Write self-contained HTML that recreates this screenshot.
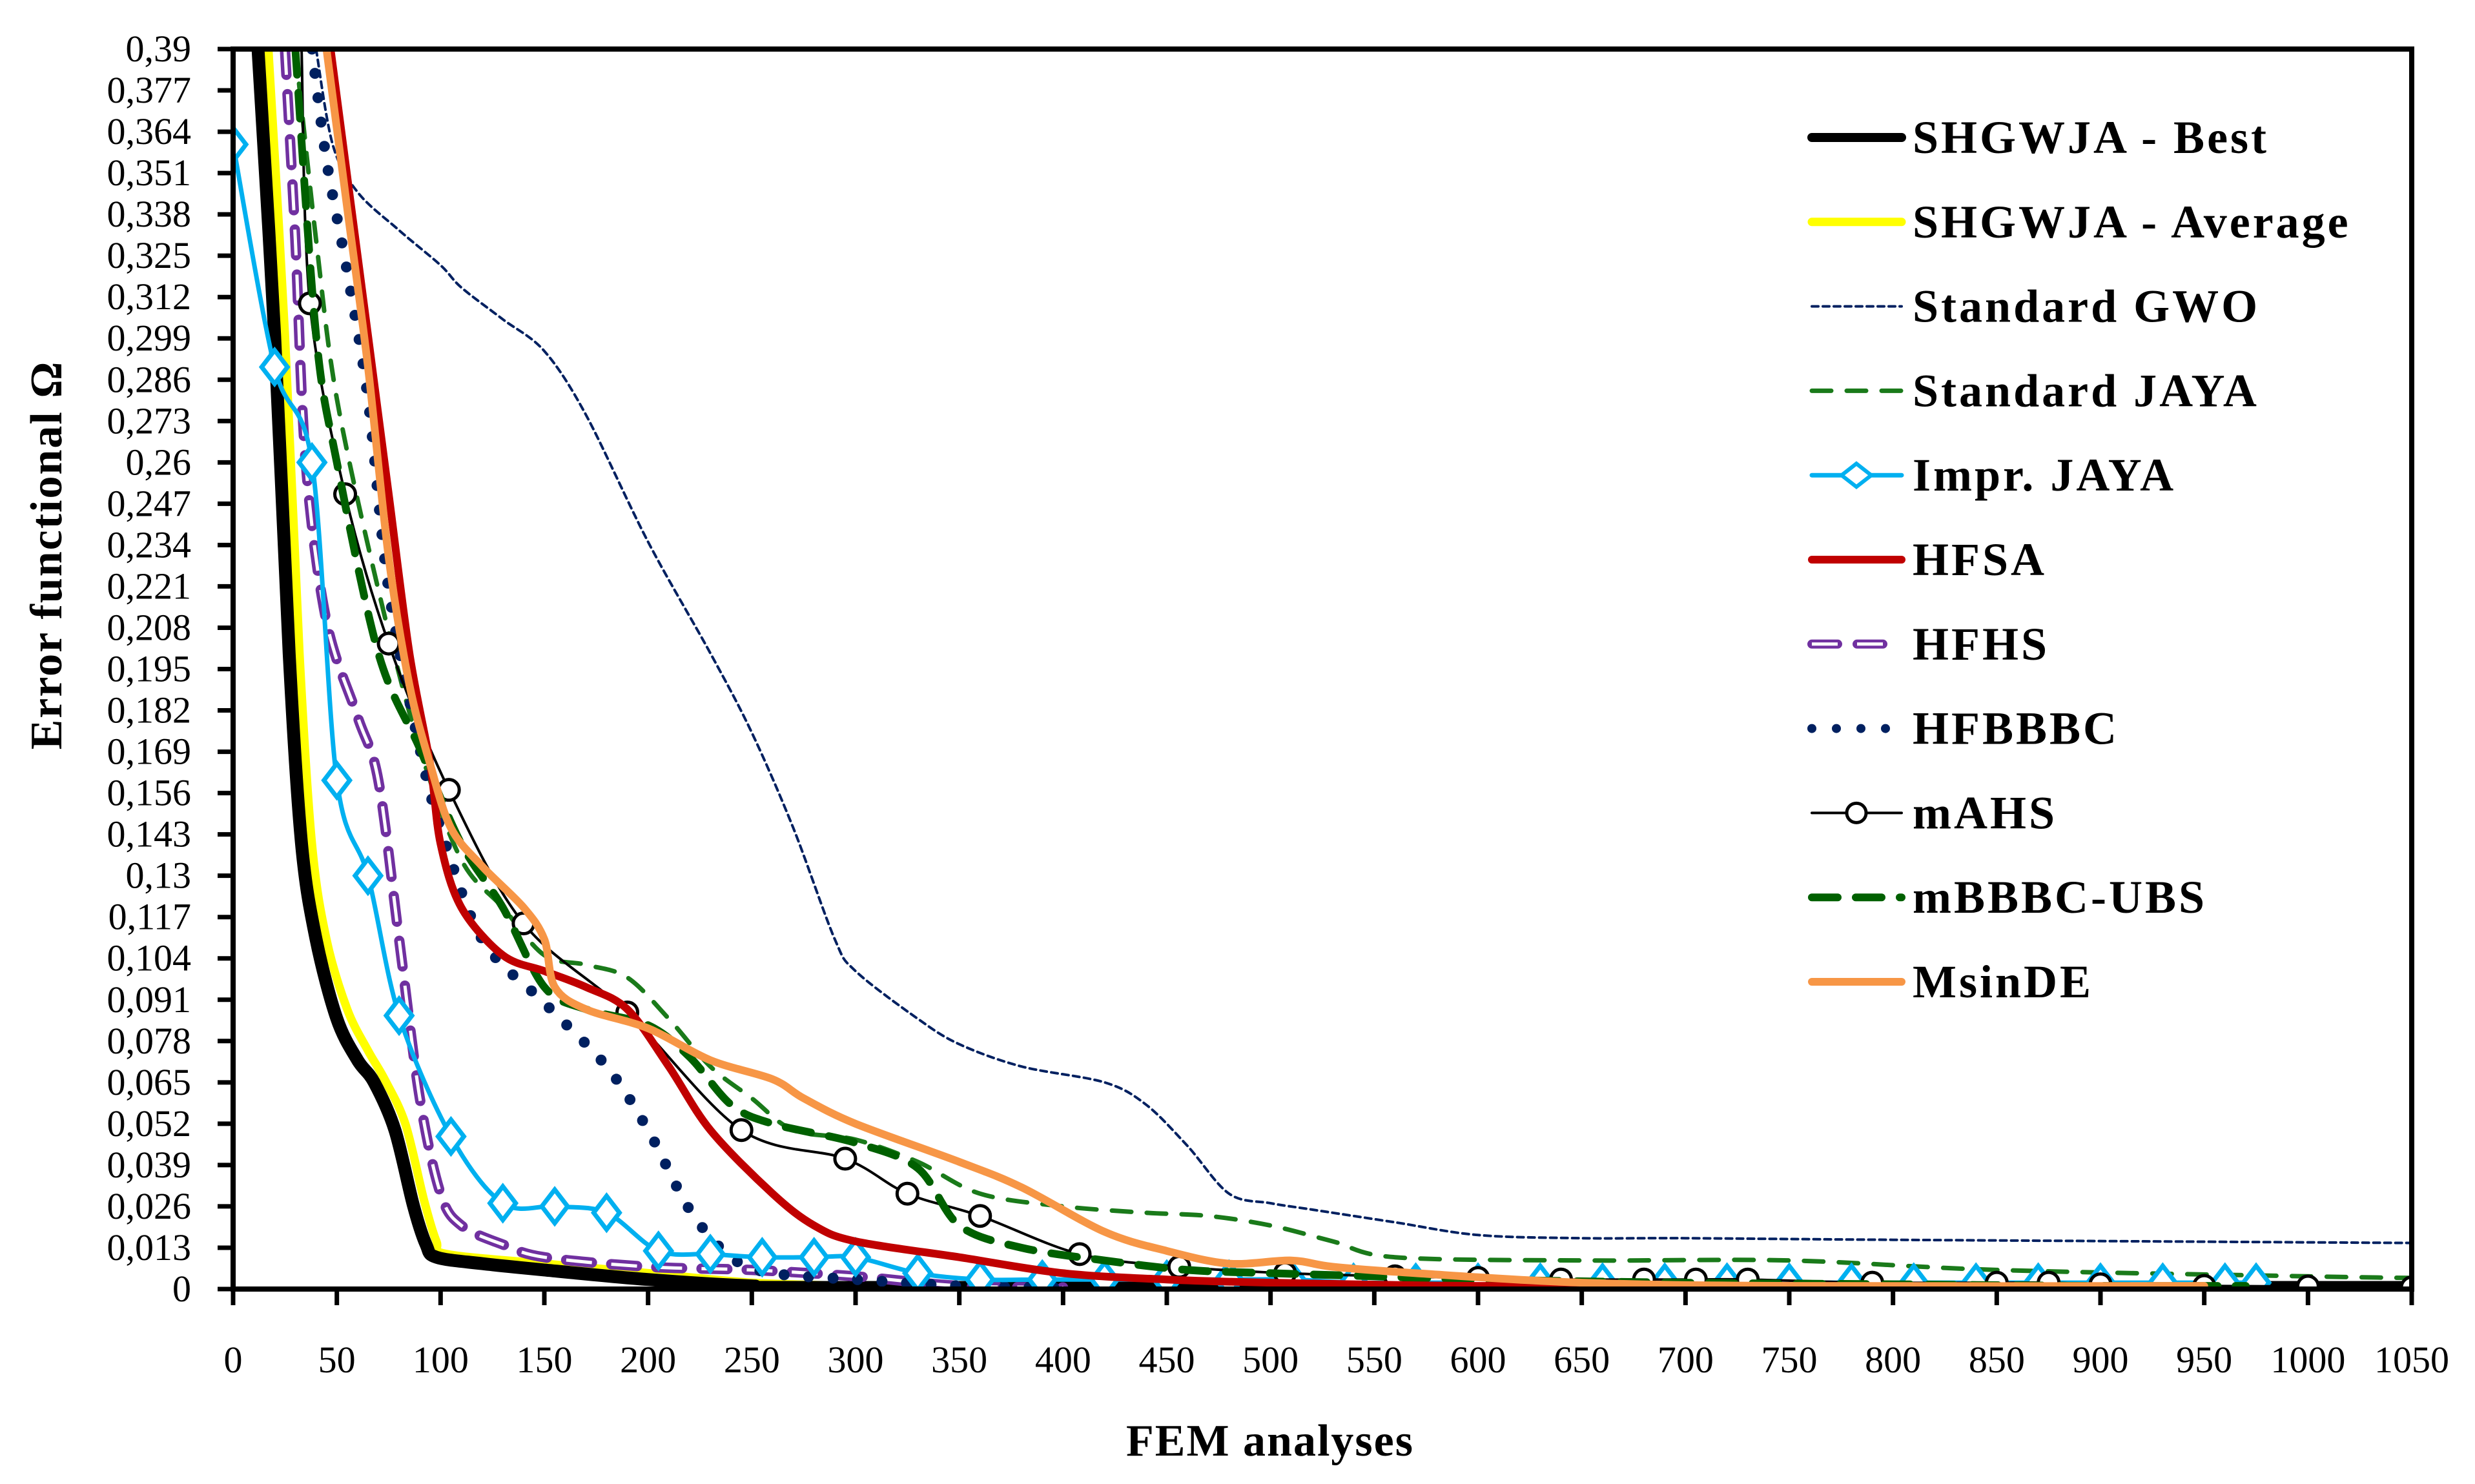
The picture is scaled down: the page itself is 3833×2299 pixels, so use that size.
<!DOCTYPE html>
<html><head><meta charset="utf-8"><style>
html,body{margin:0;padding:0;background:#fff}
svg{display:block}
text{font-family:"Liberation Serif",serif}
</style></head><body>
<svg id="chart" width="3833" height="2299" viewBox="0 0 3833 2299" xmlns="http://www.w3.org/2000/svg">
<defs><clipPath id="plotclip"><rect x="361" y="76" width="3374" height="1921"/></clipPath></defs>
<g id="grid"></g>
<g id="series" clip-path="url(#plotclip)"></g>
<rect x="361" y="76" width="3374" height="1921" fill="none" stroke="#000" stroke-width="8"/>
<g id="legend"></g>
<text x="1967" y="2255" font-size="70" font-weight="bold" text-anchor="middle" letter-spacing="2">FEM analyses</text>
<text transform="translate(95,860) rotate(-90)" font-size="70" font-weight="bold" text-anchor="middle" letter-spacing="2">Error functional  Ω</text>
</svg>
<script>
const xTicks=[0,50,100,150,200,250,300,350,400,450,500,550,600,650,700,750,800,850,900,950,1000,1050];
const yTickCount=31;
const yStep=0.013;
const bestX=[12,20,27,33,40,50,60,68,78,87,93,98,120,150,200,250,300,1050];
const bestY=[0.39,0.3,0.2,0.14,0.11,0.085,0.072,0.065,0.05,0.026,0.014,0.01,0.008,0.006,0.003,0.001,0.0005,0.0005];
const avgX=[17,25,32,38,45,55,65,73,83,92,98,103,150,200,250,300,330];
const avgY=[0.39,0.3,0.2,0.14,0.11,0.088,0.075,0.066,0.052,0.028,0.015,0.011,0.008,0.005,0.002,0.001,0.0005];
const gwoX=[40,48,60,80,100,110,130,150,170,200,230,250,270,290,300,330,350,380,420,440,460,480,500,520,560,600,650,700,800,1050];
const gwoY=[0.39,0.36,0.345,0.333,0.322,0.315,0.305,0.295,0.275,0.235,0.2,0.175,0.145,0.11,0.1,0.085,0.077,0.07,0.065,0.058,0.045,0.03,0.027,0.025,0.021,0.017,0.016,0.016,0.0155,0.0145];
const jayaX=[30,40,50,70,90,110,130,150,170,190,210,230,250,270,300,330,360,400,440,470,500,530,560,650,750,850,1000,1050];
const jayaY=[0.39,0.33,0.28,0.22,0.17,0.135,0.12,0.105,0.102,0.098,0.085,0.07,0.06,0.05,0.047,0.04,0.03,0.026,0.024,0.023,0.02,0.015,0.01,0.009,0.009,0.006,0.004,0.0035];
const imprX=[0,20,38,50,65,80,105,130,155,180,205,230,255,280,300,330,360,390,420,450,480,510,540,570,600,630,660,690,720,750,780,810,840,870,900,930,960,975];
const imprY=[0.36,0.29,0.26,0.16,0.13,0.086,0.048,0.027,0.026,0.024,0.012,0.011,0.01,0.01,0.01,0.005,0.003,0.003,0.003,0.003,0.003,0.003,0.002,0.002,0.002,0.002,0.002,0.002,0.002,0.002,0.002,0.002,0.002,0.002,0.002,0.002,0.002,0.002];
const hfsaX=[47,55,65,75,85,95,100,110,130,150,170,190,210,230,260,280,300,350,400,450,500,600,750];
const hfsaY=[0.39,0.35,0.3,0.25,0.2,0.165,0.14,0.12,0.105,0.1,0.095,0.088,0.07,0.05,0.03,0.02,0.015,0.01,0.005,0.003,0.002,0.001,0.001];
const hfhsX=[25,30,35,45,60,70,80,90,100,110,130,150,200,250,300,350,400];
const hfhsY=[0.39,0.33,0.26,0.21,0.18,0.16,0.11,0.06,0.03,0.02,0.014,0.01,0.007,0.006,0.004,0.001,0.0005];
const hfbX=[38,45,55,65,75,90,100,120,150,180,200,220,240,260,300,350,400];
const hfbY=[0.39,0.355,0.32,0.28,0.22,0.17,0.145,0.11,0.09,0.07,0.05,0.025,0.01,0.005,0.003,0.001,0.0005];
const mahsX=[33,37,54,75,104,140,190,245,295,325,360,408,456,507,560,600,640,680,705,730,790,850,875,900,950,1000,1050];
const mahsY=[0.39,0.31,0.25,0.203,0.157,0.115,0.087,0.05,0.041,0.03,0.023,0.011,0.007,0.005,0.004,0.0035,0.003,0.003,0.003,0.003,0.002,0.002,0.002,0.0015,0.001,0.0008,0.0005];
const mbbX=[30,40,50,70,90,110,130,150,170,200,220,240,260,300,330,350,380,420,460,500,550,600,700,800,900,970];
const mbbY=[0.39,0.3,0.26,0.2,0.17,0.14,0.12,0.095,0.088,0.083,0.073,0.058,0.052,0.046,0.038,0.02,0.013,0.009,0.006,0.005,0.004,0.003,0.002,0.0015,0.001,0.001];
const msX=[45,55,65,75,85,95,105,120,140,150,155,170,200,230,260,275,300,350,380,420,450,480,510,530,570,650,750,950];
const msY=[0.39,0.34,0.29,0.23,0.19,0.165,0.145,0.133,0.12,0.11,0.095,0.088,0.082,0.072,0.066,0.06,0.052,0.04,0.032,0.018,0.012,0.008,0.009,0.007,0.005,0.002,0.001,0.001];

const NS="http://www.w3.org/2000/svg";
const X0=361,X1=3735,Y0=1997,Y1=76;
function sx(v){return X0+v/1050*(X1-X0);}
function sy(v){return Y0-v/0.39*(Y0-Y1);}
function mk(tag,attrs,parent){const e=document.createElementNS(NS,tag);for(const k in attrs)e.setAttribute(k,attrs[k]);parent.appendChild(e);return e;}
function smooth(P){
  let d='M'+P[0][0].toFixed(1)+','+P[0][1].toFixed(1);
  for(let i=0;i<P.length-1;i++){
    const p0=P[i-1]||P[i],p1=P[i],p2=P[i+1],p3=P[i+2]||P[i+1];
    const t=0.16;
    const c1=[p1[0]+(p2[0]-p0[0])*t,p1[1]+(p2[1]-p0[1])*t];
    const c2=[p2[0]-(p3[0]-p1[0])*t,p2[1]-(p3[1]-p1[1])*t];
    d+=' C'+c1[0].toFixed(1)+','+c1[1].toFixed(1)+' '+c2[0].toFixed(1)+','+c2[1].toFixed(1)+' '+p2[0].toFixed(1)+','+p2[1].toFixed(1);
  }
  return d;
}
const grid=document.getElementById('grid');
for(let i=0;i<yTickCount;i++){
  const v=i*yStep;const y=sy(v);
  const t=mk('line',{x1:337,x2:361,y1:y,y2:y,stroke:'#000','stroke-width':7},grid);
  
  
  let s=(Math.round(v*1000)/1000).toString().replace('.',',');
  const lb=mk('text',{x:296,y:y+19,'font-size':58,'text-anchor':'end'},grid);
  lb.textContent=s;
  
  
}
xTicks.forEach(v=>{
  const x=sx(v);
  const t=mk('line',{x1:x,x2:x,y1:1997,y2:2022,stroke:'#000','stroke-width':7},grid);
  
  
  const lb=mk('text',{x:x,y:2126,'font-size':58,'text-anchor':'middle'},grid);
  lb.textContent=v;
  
  
});
const S=[
 {n:'shgwja-best',label:'SHGWJA - Best',xs:bestX,ys:bestY,c:'#000',w:20},
 {n:'shgwja-average',label:'SHGWJA - Average',xs:avgX,ys:avgY,c:'#ffff00',w:13},
 {n:'standard-gwo',label:'Standard GWO',xs:gwoX,ys:gwoY,c:'#002060',w:4,d:'10 7'},
 {n:'standard-jaya',label:'Standard JAYA',xs:jayaX,ys:jayaY,c:'#1a7a1a',w:7,d:'30 24'},
 {n:'impr-jaya',label:'Impr. JAYA',xs:imprX,ys:imprY,c:'#00b0f0',w:7,m:'diamond'},
 {n:'hfsa',label:'HFSA',xs:hfsaX,ys:hfsaY,c:'#c00000',w:12},
 {n:'hfhs',label:'HFHS',xs:hfhsX,ys:hfhsY,c:'#7030a0',w:16,d:'40 30',inner:true},
 {n:'hfbbbc',label:'HFBBBC',xs:hfbX,ys:hfbY,c:'#002060',w:17,d:'0 38'},
 {n:'mahs',label:'mAHS',xs:mahsX,ys:mahsY,c:'#000',w:4,m:'circle'},
 {n:'mbbbc-ubs',label:'mBBBC-UBS',xs:mbbX,ys:mbbY,c:'#006000',w:12,d:'40 28'},
 {n:'msinde',label:'MsinDE',xs:msX,ys:msY,c:'#f79646',w:12}
];
const sg=document.getElementById('series');
const order=[3,2,1,0,6,7,4,8,9,5,10];
order.forEach(i=>{
  const s=S[i];
  const P=s.xs.map((x,j)=>[sx(x),sy(s.ys[j])]);
  const d=smooth(P);
  const attrs={d:d,fill:'none',stroke:s.c,'stroke-width':s.w,'stroke-linejoin':'round','stroke-linecap':'round'};
  if(s.d)attrs['stroke-dasharray']=s.d;
  const p=mk('path',attrs,sg);
  
  
  if(s.inner){
    const q=mk('path',{d:d,fill:'none',stroke:'#fff','stroke-width':5,'stroke-dasharray':s.d,'stroke-linecap':'butt'},sg);
    
    
  }
  if(s.m){
    s.xs.forEach((x,j)=>{
      if(s.m==='circle'&&j===0)return;
      const cx=sx(x),cy=sy(s.ys[j]);
      let e;
      if(s.m==='diamond'){
        e=mk('polygon',{points:`${cx},${cy-26} ${cx+20},${cy} ${cx},${cy+26} ${cx-20},${cy}`,fill:'#fff',stroke:s.c,'stroke-width':7},sg);
      }else{
        e=mk('circle',{cx:cx,cy:cy,r:16,fill:'#fff',stroke:s.c,'stroke-width':5},sg);
      }
      
      
    });
  }
});
const lg=document.getElementById('legend');
S.forEach((s,i)=>{
  const y=213+i*130.8;
  const g=mk('g',{},lg);
  
  
  const a={x1:2806,x2:2945,y1:y,y2:y,stroke:s.c,'stroke-width':Math.min(s.w,14),'stroke-linecap':'round'};
  if(s.d)a['stroke-dasharray']=s.d;
  mk('line',a,g);
  if(s.inner)mk('line',{x1:2806,x2:2945,y1:y,y2:y,stroke:'#fff','stroke-width':5,'stroke-dasharray':s.d},g);
  if(s.m==='diamond')mk('polygon',{points:`2875,${y-18} 2898,${y} 2875,${y+18} 2852,${y}`,fill:'#fff',stroke:s.c,'stroke-width':6},g);
  if(s.m==='circle')mk('circle',{cx:2875,cy:y,r:15,fill:'#fff',stroke:s.c,'stroke-width':5},g);
  const t=mk('text',{x:2962,y:y+24,'font-size':72,'font-weight':'bold','letter-spacing':4},g);
  t.textContent=s.label;
});
</script>
</body></html>
